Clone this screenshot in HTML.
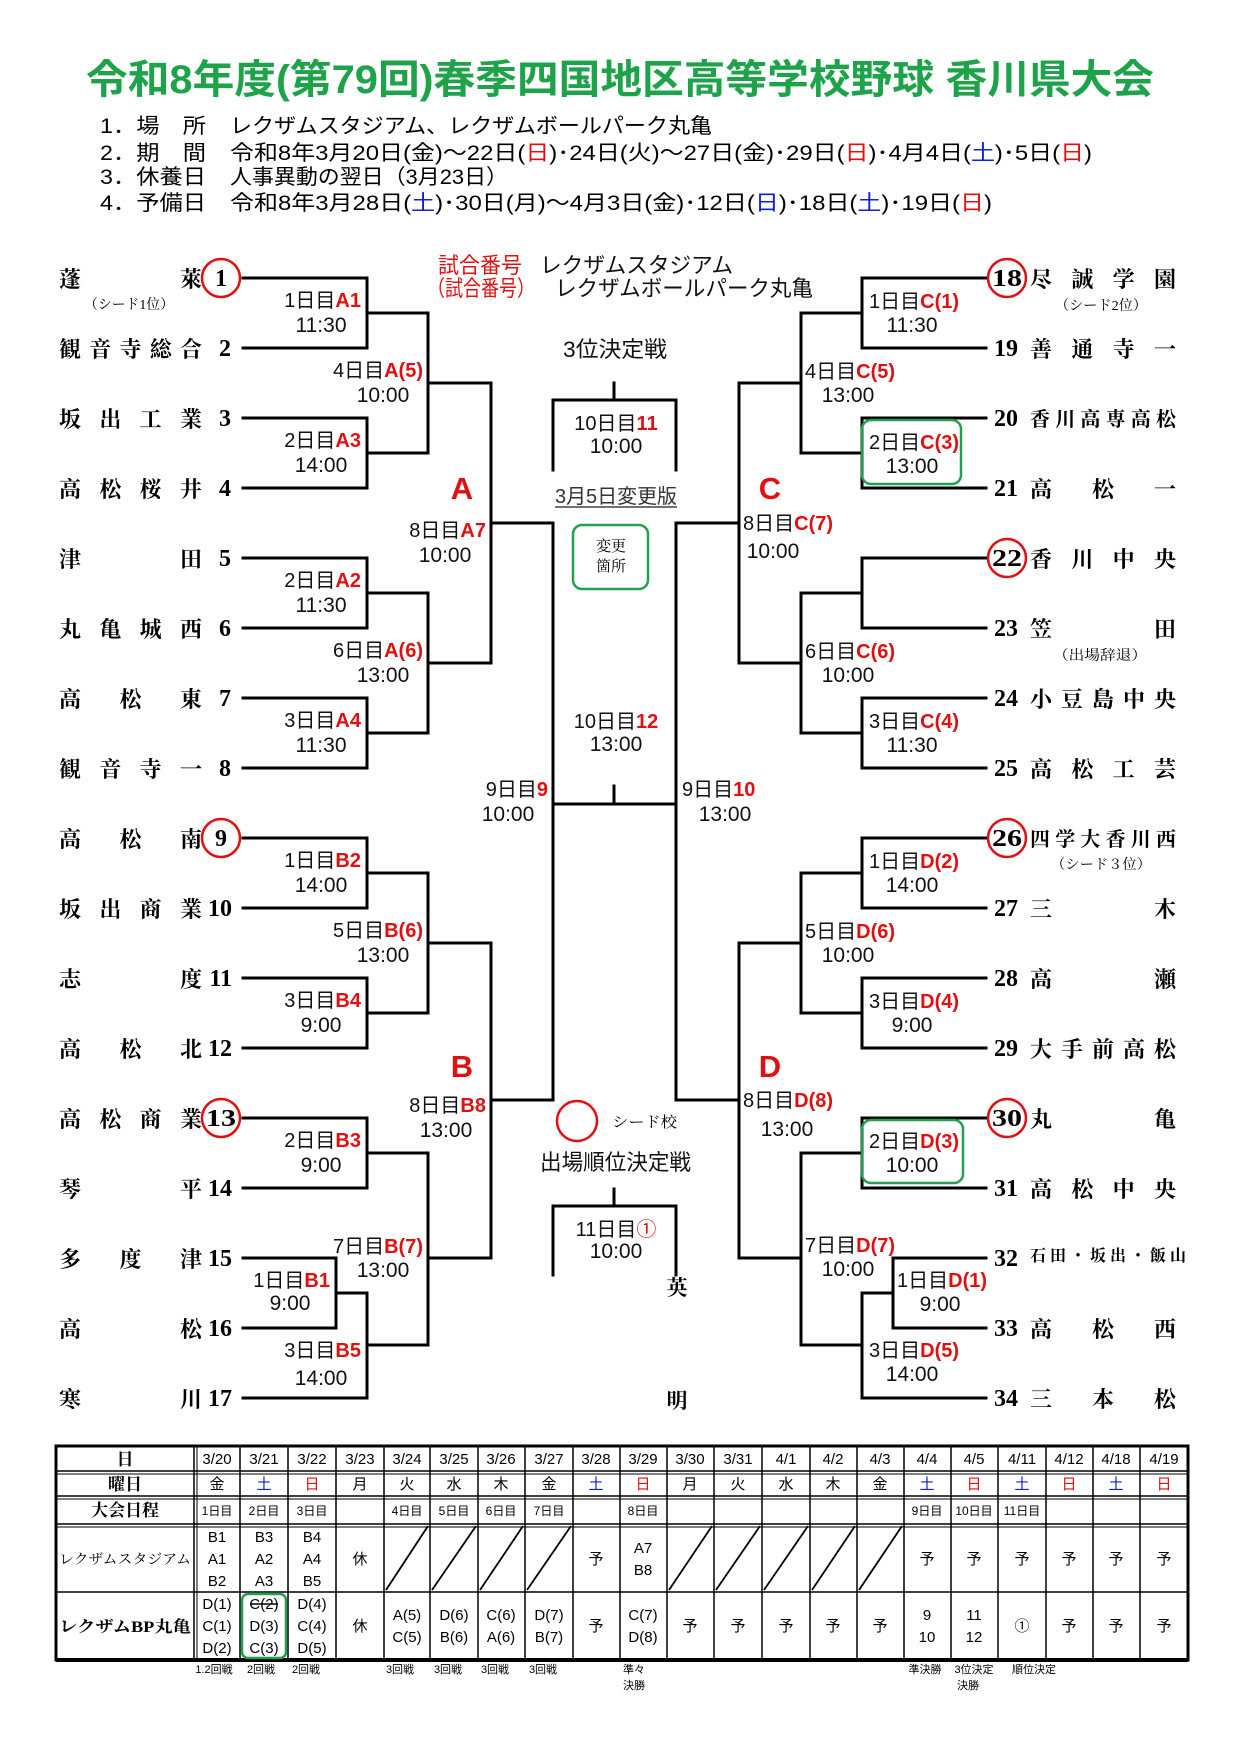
<!DOCTYPE html>
<html><head><meta charset="utf-8">
<style>
html,body{margin:0;padding:0;background:#fff;}
#w{position:relative;width:1240px;height:1754px;overflow:hidden;}
svg{position:absolute;left:0;top:0;}
.nm{position:absolute;height:24px;line-height:24px;font:700 22px "Liberation Serif","Noto Serif CJK SC",serif;text-align:justify;text-align-last:justify;color:#000;white-space:nowrap;}
.L{left:59px;width:143px;}
.R{left:1030px;width:146px;}
.lb{font-family:"Liberation Sans","Noto Sans CJK JP",sans-serif;font-size:20px;fill:#111;}
.tm{font-family:"Liberation Sans",sans-serif;font-size:21px;fill:#111;text-anchor:middle;}
.r{fill:#e01010;font-weight:700;}
.num{font-family:"Liberation Serif",serif;font-weight:700;font-size:24px;fill:#000;}
.sd{font-family:"Liberation Serif","Noto Serif CJK SC",serif;font-size:14px;fill:#000;}
.inf{font-family:"Liberation Sans","Noto Sans CJK JP",sans-serif;font-size:21px;fill:#000;}
.tt{font-family:"Liberation Sans","Noto Sans CJK JP",sans-serif;font-size:15px;fill:#000;text-anchor:middle;}
.th{font-family:"Liberation Serif","Noto Serif CJK SC",serif;font-weight:700;font-size:17px;fill:#000;text-anchor:middle;}
.fn{font-family:"Liberation Sans","Noto Sans CJK JP",sans-serif;font-size:11px;fill:#000;}
</style></head><body><div id="w">
<svg width="1240" height="1754" viewBox="0 0 1240 1754">
<text x="620" y="93" text-anchor="middle" textLength="1068" lengthAdjust="spacingAndGlyphs" style="font-family:'Liberation Sans','Noto Sans CJK JP',sans-serif;font-size:40px;font-weight:700;fill:#1fa34a;">令和8年度(第79回)春季四国地区高等学校野球 香川県大会</text>
<text class="inf" x="100" y="133" textLength="106" lengthAdjust="spacingAndGlyphs">1．場　所</text>
<text class="inf" x="230" y="133" textLength="482" lengthAdjust="spacingAndGlyphs">レクザムスタジアム、レクザムボールパーク丸亀</text>
<text class="inf" x="100" y="160" textLength="106" lengthAdjust="spacingAndGlyphs">2．期　間</text>
<text class="inf" x="230" y="160" textLength="862" lengthAdjust="spacingAndGlyphs">令和8年3月20日(金)～22日(<tspan fill="#e01010">日</tspan>)･24日(火)～27日(金)･29日(<tspan fill="#e01010">日</tspan>)･4月4日(<tspan fill="#1020d0">土</tspan>)･5日(<tspan fill="#e01010">日</tspan>)</text>
<text class="inf" x="100" y="184" textLength="106" lengthAdjust="spacingAndGlyphs">3．休養日</text>
<text class="inf" x="230" y="184" textLength="278" lengthAdjust="spacingAndGlyphs">人事異動の翌日（3月23日）</text>
<text class="inf" x="100" y="210" textLength="106" lengthAdjust="spacingAndGlyphs">4．予備日</text>
<text class="inf" x="230" y="210" textLength="762" lengthAdjust="spacingAndGlyphs">令和8年3月28日(<tspan fill="#1020d0">土</tspan>)･30日(月)～4月3日(金)･12日(<tspan fill="#1020d0">日</tspan>)･18日(<tspan fill="#1020d0">土</tspan>)･19日(<tspan fill="#e01010">日</tspan>)</text>

<g stroke="#000" stroke-width="3" fill="none" stroke-linecap="square">
<path d="M243 278H367 M243 348H367 M243 418H367 M243 488H367 M243 558H367 M243 628H367 M243 698H367 M243 768H367 M243 838H367 M243 908H367 M243 978H367 M243 1048H367 M243 1118H367 M243 1188H367 M243 1258H336 M243 1328H336 M243 1398H367"/>
<path d="M367 278V348 M367 313H428 M367 418V488 M367 453H428 M428 313V453 M428 383H491
M367 558V628 M367 593H428 M367 698V768 M367 733H428 M428 593V733 M428 663H491 M491 383V663 M491 523H553
M367 838V908 M367 873H428 M367 978V1048 M367 1013H428 M428 873V1013 M428 943H491
M367 1118V1188 M367 1153H428 M336 1258V1328 M336 1293H367 M367 1293V1398 M367 1345H428 M428 1153V1345 M428 1258H491
M491 943V1258 M491 1100H553 M553 523V1100"/>
<path d="M986 278H862 M986 348H862 M986 418H862 M986 488H862 M986 558H862 M986 628H862 M986 698H862 M986 768H862 M986 838H862 M986 908H862 M986 978H862 M986 1048H862 M986 1118H862 M986 1188H862 M986 1258H893 M986 1328H893 M986 1398H862"/>
<path d="M862 278V348 M862 313H801 M862 418V488 M862 453H801 M801 313V453 M801 383H739
M862 558V628 M862 593H801 M862 698V768 M862 733H801 M801 593V733 M801 663H739 M739 383V663 M739 523H676
M862 838V908 M862 873H801 M862 978V1048 M862 1013H801 M801 873V1013 M801 943H739
M862 1118V1188 M862 1153H801 M893 1258V1328 M893 1293H862 M862 1293V1398 M862 1345H801 M801 1153V1345 M801 1258H739
M739 943V1258 M739 1100H676 M676 523V1100"/>
<path d="M553 804H676 M614 786V804"/>
<path d="M553 470V400H676V470 M614 383V400"/>
<path d="M553 1275V1206H676V1275 M614 1189V1206"/>
</g>

<g fill="#fff" stroke="#e01010" stroke-width="2.5">
<circle cx="221" cy="278" r="19"/><circle cx="221" cy="838" r="19"/><circle cx="221" cy="1118" r="19"/>
<circle cx="1007" cy="278" r="19"/><circle cx="1007" cy="558" r="19"/><circle cx="1007" cy="838" r="19"/><circle cx="1007" cy="1118" r="19"/>
<circle cx="577" cy="1121" r="20" fill="none"/>
</g>

<g class="num" text-anchor="end">
<text x="231" y="356">2</text><text x="231" y="426">3</text><text x="231" y="496">4</text><text x="231" y="566">5</text><text x="231" y="636">6</text><text x="231" y="706">7</text><text x="231" y="776">8</text><text x="232" y="916">10</text><text x="232" y="986">11</text><text x="232" y="1056">12</text><text x="232" y="1196">14</text><text x="232" y="1266">15</text><text x="232" y="1336">16</text><text x="232" y="1406">17</text>
</g>
<g class="num" text-anchor="middle">
<text x="221" y="286">1</text><text x="221" y="846">9</text><text x="221" y="1126" textLength="30" lengthAdjust="spacingAndGlyphs">13</text>
<text x="1007" y="286" textLength="30" lengthAdjust="spacingAndGlyphs">18</text><text x="1007" y="566" textLength="30" lengthAdjust="spacingAndGlyphs">22</text><text x="1007" y="846" textLength="30" lengthAdjust="spacingAndGlyphs">26</text><text x="1007" y="1126" textLength="30" lengthAdjust="spacingAndGlyphs">30</text>
</g>
<g class="num">
<text x="994" y="356">19</text><text x="994" y="426">20</text><text x="994" y="496">21</text><text x="994" y="636">23</text><text x="994" y="706">24</text><text x="994" y="776">25</text><text x="994" y="916">27</text><text x="994" y="986">28</text><text x="994" y="1056">29</text><text x="994" y="1196">31</text><text x="994" y="1266">32</text><text x="994" y="1336">33</text><text x="994" y="1406">34</text>
</g>

<text class="sd" x="84" y="309" textLength="90" lengthAdjust="spacingAndGlyphs">（シード1位）</text>
<text class="sd" x="1055" y="310" textLength="92" lengthAdjust="spacingAndGlyphs">（シード2位）</text>
<text class="sd" x="1053" y="660" textLength="94" lengthAdjust="spacingAndGlyphs">（出場辞退）</text>
<text class="sd" x="1051" y="869" textLength="100" lengthAdjust="spacingAndGlyphs">（シード３位）</text>

<g class="lb" text-anchor="end">
<text x="361" y="307">1日目<tspan class="r">A1</tspan></text>
<text x="361" y="447">2日目<tspan class="r">A3</tspan></text>
<text x="361" y="587">2日目<tspan class="r">A2</tspan></text>
<text x="361" y="727">3日目<tspan class="r">A4</tspan></text>
<text x="423" y="377">4日目<tspan class="r">A(5)</tspan></text>
<text x="423" y="657">6日目<tspan class="r">A(6)</tspan></text>
<text x="486" y="537">8日目<tspan class="r">A7</tspan></text>
<text x="361" y="867">1日目<tspan class="r">B2</tspan></text>
<text x="361" y="1007">3日目<tspan class="r">B4</tspan></text>
<text x="423" y="937">5日目<tspan class="r">B(6)</tspan></text>
<text x="361" y="1147">2日目<tspan class="r">B3</tspan></text>
<text x="330" y="1287">1日目<tspan class="r">B1</tspan></text>
<text x="361" y="1357">3日目<tspan class="r">B5</tspan></text>
<text x="423" y="1253">7日目<tspan class="r">B(7)</tspan></text>
<text x="486" y="1112">8日目<tspan class="r">B8</tspan></text>
<text x="548" y="796">9日目<tspan class="r">9</tspan></text>
</g>
<g class="tm">
<text x="321" y="332">11:30</text><text x="321" y="472">14:00</text><text x="321" y="612">11:30</text><text x="321" y="752">11:30</text>
<text x="383" y="402">10:00</text><text x="383" y="682">13:00</text><text x="445" y="562">10:00</text>
<text x="321" y="892">14:00</text><text x="321" y="1032">9:00</text><text x="383" y="962">13:00</text><text x="321" y="1172">9:00</text>
<text x="290" y="1310">9:00</text><text x="321" y="1385">14:00</text><text x="383" y="1277">13:00</text><text x="446" y="1137">13:00</text>
<text x="508" y="821">10:00</text>
</g>
<g class="lb">
<text x="869" y="308">1日目<tspan class="r">C(1)</tspan></text>
<text x="869" y="449">2日目<tspan class="r">C(3)</tspan></text>
<text x="805" y="378">4日目<tspan class="r">C(5)</tspan></text>
<text x="805" y="658">6日目<tspan class="r">C(6)</tspan></text>
<text x="869" y="728">3日目<tspan class="r">C(4)</tspan></text>
<text x="743" y="530">8日目<tspan class="r">C(7)</tspan></text>
<text x="869" y="868">1日目<tspan class="r">D(2)</tspan></text>
<text x="869" y="1008">3日目<tspan class="r">D(4)</tspan></text>
<text x="805" y="938">5日目<tspan class="r">D(6)</tspan></text>
<text x="869" y="1148">2日目<tspan class="r">D(3)</tspan></text>
<text x="897" y="1287">1日目<tspan class="r">D(1)</tspan></text>
<text x="869" y="1357">3日目<tspan class="r">D(5)</tspan></text>
<text x="805" y="1252">7日目<tspan class="r">D(7)</tspan></text>
<text x="743" y="1107">8日目<tspan class="r">D(8)</tspan></text>
<text x="682" y="796">9日目<tspan class="r">10</tspan></text>
</g>
<g class="tm">
<text x="912" y="332">11:30</text><text x="912" y="473">13:00</text><text x="848" y="402">13:00</text><text x="848" y="682">10:00</text><text x="912" y="752">11:30</text>
<text x="773" y="558">10:00</text>
<text x="912" y="892">14:00</text><text x="912" y="1032">9:00</text><text x="848" y="962">10:00</text><text x="912" y="1172">10:00</text>
<text x="940" y="1311">9:00</text><text x="912" y="1381">14:00</text><text x="848" y="1276">10:00</text><text x="787" y="1136">13:00</text>
<text x="725" y="821">13:00</text>
</g>
<g fill="none" stroke="#20a050" stroke-width="2.5">
<rect x="862" y="420" width="99" height="64" rx="9"/>
<rect x="862" y="1120" width="101" height="63" rx="9"/>
<rect x="573" y="525" width="75" height="64" rx="9"/>
</g>
<g style="font-family:'Liberation Sans',sans-serif;font-weight:700;font-size:31px;fill:#e01010;" text-anchor="middle">
<text x="462" y="499">A</text><text x="770" y="499">C</text><text x="462" y="1077">B</text><text x="770" y="1077">D</text>
</g>
<g style="font-family:'Liberation Sans','Noto Sans CJK JP',sans-serif;font-size:22px;">
<text x="438" y="273" fill="#e01010" textLength="84" lengthAdjust="spacingAndGlyphs">試合番号</text>
<text x="540" y="273" fill="#111" textLength="193" lengthAdjust="spacingAndGlyphs">レクザムスタジアム</text>
<text x="427" y="296" fill="#e01010" textLength="108" lengthAdjust="spacingAndGlyphs">（試合番号）</text>
<text x="555" y="296" fill="#111" textLength="258" lengthAdjust="spacingAndGlyphs">レクザムボールパーク丸亀</text>
<text x="563" y="357" fill="#111" textLength="104" lengthAdjust="spacingAndGlyphs">3位決定戦</text>
<text x="540" y="1170" fill="#111" textLength="151" lengthAdjust="spacingAndGlyphs">出場順位決定戦</text>
</g>
<text x="555" y="503" textLength="122" lengthAdjust="spacingAndGlyphs" style="font-family:'Liberation Sans','Noto Sans CJK JP',sans-serif;font-size:20px;fill:#333;">3月5日変更版</text>
<line x1="555" y1="507" x2="677" y2="507" stroke="#444" stroke-width="1.5"/>
<text x="611" y="551" text-anchor="middle" style="font-family:'Noto Serif CJK SC',serif;font-size:15px;">変更</text>
<text x="611" y="571" text-anchor="middle" style="font-family:'Noto Serif CJK SC',serif;font-size:15px;">箇所</text>
<text x="612" y="1127" style="font-family:'Noto Serif CJK SC',serif;font-size:15px;" textLength="65" lengthAdjust="spacingAndGlyphs">シード校</text>
<g class="lb" text-anchor="middle">
<text x="616" y="430">10日目<tspan class="r">11</tspan></text>
<text x="616" y="728">10日目<tspan class="r">12</tspan></text>
<text x="616" y="1236">11日目<tspan fill="#e01010">①</tspan></text>
</g>
<g class="tm">
<text x="616" y="453">10:00</text><text x="616" y="751">13:00</text><text x="616" y="1258">10:00</text>
</g>
<g class="num" style="font-family:'Noto Serif CJK SC',serif;font-size:21px;" text-anchor="middle">
<text x="677" y="1295">英</text><text x="677" y="1408">明</text>
</g>

<g stroke="#000" fill="none">
<rect x="56" y="1446" width="1132" height="214" stroke-width="3"/>
<path stroke-width="1.5" d="M56 1471H1188 M56 1496H1188 M56 1524H1188 M56 1592H1188"/>
<path stroke-width="1.5" d="M194 1446V1660 M240 1446V1660 M288 1446V1660 M336 1446V1660 M384 1446V1660 M430 1446V1660 M478 1446V1660 M525 1446V1660 M573 1446V1660 M620 1446V1660 M667 1446V1660 M714 1446V1660 M762 1446V1660 M810 1446V1660 M857 1446V1660 M904 1446V1660 M951 1446V1660 M998 1446V1660 M1046 1446V1660 M1093 1446V1660 M1140 1446V1660"/>
<path stroke-width="1" d="M197 1446V1660 M57 1474H1188 M57 1499H1188 M57 1527H1188"/>
<path stroke-width="4" d="M56 1660H1188"/>
<path stroke-width="1.8" d="M386 1590L428 1526 M432 1590L476 1526 M480 1590L523 1526 M527 1590L571 1526 M669 1590L712 1526 M716 1590L760 1526 M764 1590L808 1526 M812 1590L855 1526 M859 1590L902 1526"/>
</g>
<rect x="242" y="1594" width="44" height="64" rx="6" fill="none" stroke="#20a050" stroke-width="2.5"/>
<g class="th">
<text x="125" y="1465">日</text><text x="125" y="1490">曜日</text><text x="125" y="1516">大会日程</text>
<text x="125" y="1564" style="font-size:14px;font-weight:400" textLength="132" lengthAdjust="spacingAndGlyphs">レクザムスタジアム</text>
<text x="125" y="1632" style="font-size:16px" textLength="132" lengthAdjust="spacingAndGlyphs">レクザムBP丸亀</text>
</g>
<g class="tt">
<text x="217" y="1464">3/20</text><text x="264" y="1464">3/21</text><text x="312" y="1464">3/22</text><text x="360" y="1464">3/23</text><text x="407" y="1464">3/24</text><text x="454" y="1464">3/25</text><text x="501" y="1464">3/26</text><text x="549" y="1464">3/27</text><text x="596" y="1464">3/28</text><text x="643" y="1464">3/29</text><text x="690" y="1464">3/30</text><text x="738" y="1464">3/31</text><text x="786" y="1464">4/1</text><text x="833" y="1464">4/2</text><text x="880" y="1464">4/3</text><text x="927" y="1464">4/4</text><text x="974" y="1464">4/5</text><text x="1022" y="1464">4/11</text><text x="1069" y="1464">4/12</text><text x="1116" y="1464">4/18</text><text x="1164" y="1464">4/19</text>
</g>
<g class="tt">
<text x="217" y="1489">金</text><text x="264" y="1489" fill="#1020d0">土</text><text x="312" y="1489" fill="#e01010">日</text><text x="360" y="1489">月</text><text x="407" y="1489">火</text><text x="454" y="1489">水</text><text x="501" y="1489">木</text><text x="549" y="1489">金</text><text x="596" y="1489" fill="#1020d0">土</text><text x="643" y="1489" fill="#e01010">日</text><text x="690" y="1489">月</text><text x="738" y="1489">火</text><text x="786" y="1489">水</text><text x="833" y="1489">木</text><text x="880" y="1489">金</text><text x="927" y="1489" fill="#1020d0">土</text><text x="974" y="1489" fill="#e01010">日</text><text x="1022" y="1489" fill="#1020d0">土</text><text x="1069" y="1489" fill="#e01010">日</text><text x="1116" y="1489" fill="#1020d0">土</text><text x="1164" y="1489" fill="#e01010">日</text>
</g>
<g class="tt" style="font-size:12px">
<text x="217" y="1515">1日目</text><text x="264" y="1515">2日目</text><text x="312" y="1515">3日目</text><text x="407" y="1515">4日目</text><text x="454" y="1515">5日目</text><text x="501" y="1515">6日目</text><text x="549" y="1515">7日目</text><text x="643" y="1515">8日目</text><text x="927" y="1515">9日目</text><text x="974" y="1515">10日目</text><text x="1022" y="1515">11日目</text>
</g>
<g class="tt">
<text x="217" y="1542">B1</text><text x="217" y="1564">A1</text><text x="217" y="1586">B2</text>
<text x="264" y="1542">B3</text><text x="264" y="1564">A2</text><text x="264" y="1586">A3</text>
<text x="312" y="1542">B4</text><text x="312" y="1564">A4</text><text x="312" y="1586">B5</text>
<text x="360" y="1564">休</text><text x="596" y="1564">予</text>
<text x="643" y="1553">A7</text><text x="643" y="1575">B8</text>
<text x="927" y="1564">予</text><text x="974" y="1564">予</text><text x="1022" y="1564">予</text><text x="1069" y="1564">予</text><text x="1116" y="1564">予</text><text x="1164" y="1564">予</text>
<text x="217" y="1609">D(1)</text><text x="217" y="1631">C(1)</text><text x="217" y="1653">D(2)</text>
<text x="264" y="1609">C(2)</text><text x="264" y="1631">D(3)</text><text x="264" y="1653">C(3)</text>
<text x="312" y="1609">D(4)</text><text x="312" y="1631">C(4)</text><text x="312" y="1653">D(5)</text>
<text x="360" y="1631">休</text>
<text x="407" y="1620">A(5)</text><text x="407" y="1642">C(5)</text>
<text x="454" y="1620">D(6)</text><text x="454" y="1642">B(6)</text>
<text x="501" y="1620">C(6)</text><text x="501" y="1642">A(6)</text>
<text x="549" y="1620">D(7)</text><text x="549" y="1642">B(7)</text>
<text x="596" y="1631">予</text>
<text x="643" y="1620">C(7)</text><text x="643" y="1642">D(8)</text>
<text x="690" y="1631">予</text><text x="738" y="1631">予</text><text x="786" y="1631">予</text><text x="833" y="1631">予</text><text x="880" y="1631">予</text>
<text x="927" y="1620">9</text><text x="927" y="1642">10</text>
<text x="974" y="1620">11</text><text x="974" y="1642">12</text>
<text x="1022" y="1631">①</text>
<text x="1069" y="1631">予</text><text x="1116" y="1631">予</text><text x="1164" y="1631">予</text>
</g>
<line x1="250" y1="1604" x2="278" y2="1604" stroke="#000" stroke-width="1.5"/>
<g class="fn" text-anchor="middle">
<text x="214" y="1673">1.2回戦</text><text x="261" y="1673">2回戦</text><text x="306" y="1673">2回戦</text>
<text x="400" y="1673">3回戦</text><text x="448" y="1673">3回戦</text><text x="495" y="1673">3回戦</text><text x="543" y="1673">3回戦</text>
<text x="634" y="1673">準々</text><text x="634" y="1689">決勝</text>
<text x="925" y="1673">準決勝</text><text x="974" y="1673">3位決定</text><text x="968" y="1689">決勝</text><text x="1034" y="1673">順位決定</text>
</g>
</svg>

<div class="nm L" style="top:263px">蓬 萊</div>
<div class="nm L" style="top:333px">観 音 寺 総 合</div>
<div class="nm L" style="top:403px">坂 出 工 業</div>
<div class="nm L" style="top:473px">高 松 桜 井</div>
<div class="nm L" style="top:543px">津 田</div>
<div class="nm L" style="top:613px">丸 亀 城 西</div>
<div class="nm L" style="top:683px">高 松 東</div>
<div class="nm L" style="top:753px">観 音 寺 一</div>
<div class="nm L" style="top:823px">高 松 南</div>
<div class="nm L" style="top:893px">坂 出 商 業</div>
<div class="nm L" style="top:963px">志 度</div>
<div class="nm L" style="top:1033px">高 松 北</div>
<div class="nm L" style="top:1103px">高 松 商 業</div>
<div class="nm L" style="top:1173px">琴 平</div>
<div class="nm L" style="top:1243px">多 度 津</div>
<div class="nm L" style="top:1313px">高 松</div>
<div class="nm L" style="top:1383px">寒 川</div>

<div class="nm R" style="top:263px">尽 誠 学 園</div>
<div class="nm R" style="top:333px">善 通 寺 一</div>
<div class="nm R" style="top:403px;font-size:20px">香 川 高 専 高 松</div>
<div class="nm R" style="top:473px">高 松 一</div>
<div class="nm R" style="top:543px">香 川 中 央</div>
<div class="nm R" style="top:613px">笠 田</div>
<div class="nm R" style="top:683px">小 豆 島 中 央</div>
<div class="nm R" style="top:753px">高 松 工 芸</div>
<div class="nm R" style="top:823px;font-size:20px">四 学 大 香 川 西</div>
<div class="nm R" style="top:893px">三 木</div>
<div class="nm R" style="top:963px">高 瀬</div>
<div class="nm R" style="top:1033px">大 手 前 高 松</div>
<div class="nm R" style="top:1103px">丸 亀</div>
<div class="nm R" style="top:1173px">高 松 中 央</div>
<div class="nm R" style="top:1243px;font-size:16px">石 田 ・ 坂 出 ・ 飯 山</div>
<div class="nm R" style="top:1313px">高 松 西</div>
<div class="nm R" style="top:1383px">三 本 松</div>
</div></body></html>
